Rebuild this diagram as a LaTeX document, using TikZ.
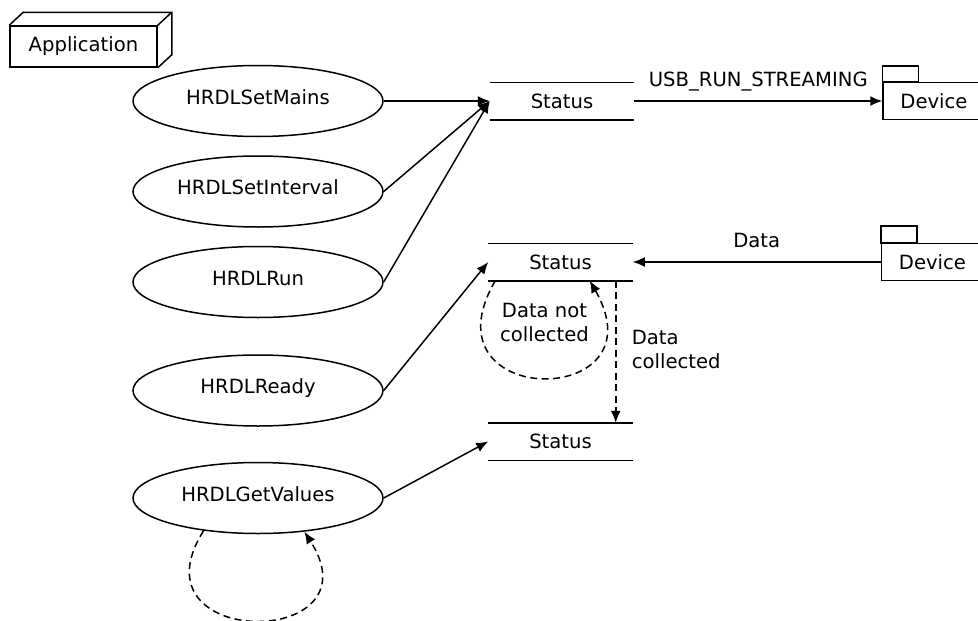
\documentclass[tikz,border=0pt]{standalone}
\usepackage{fontspec}
\setmainfont{DejaVu Sans}
\usetikzlibrary{arrows.meta,positioning,shapes.geometric}

\begin{document}
\begin{tikzpicture}[x=1pt,y=-1pt,>={Latex[length=12pt,width=10pt]},line width=1.5pt,font=\fontsize{19.6}{24}\selectfont,usecase/.style={ellipse,draw,minimum width=250pt,minimum height=71pt,inner sep=2pt,text height=14pt,text depth=8pt},store/.style={minimum width=143pt,minimum height=36pt,inner sep=0pt},device/.style={rectangle,draw,minimum width=102pt,minimum height=37pt,inner sep=0pt},appbox/.style={rectangle,draw,minimum width=147pt,minimum height=41pt,inner sep=0pt},lbl/.style={inner sep=0pt,text depth=0pt},dashedflow/.style={dash pattern=on 7pt off 4.5pt}]
    \useasboundingbox (0,0) rectangle (978,621);
    \node [appbox] (app) at (83.5,46.5)                {Application};
    \draw (app.north west) -- ++(14,-13) -| ([shift={(14pt,13pt)}] app.south east) -- (app.south east)
    (app.north east) -- ++(14,-13);

    \node [usecase] (setmains) at (258,101)            {HRDLSetMains};
    \node [usecase, below=18pt of setmains] (setinterval) {HRDLSetInterval};
    \node [usecase, below=18pt of setinterval] (run)   {HRDLRun};
    \node [usecase, below=36pt of run] (ready)         {HRDLReady};
    \node [usecase, below=35pt of ready] (getvalues)   {HRDLGetValues};

    \node [store, right=106pt of setmains] (status1)   {Status};
    \node [store] (status2) at (560.5,262)             {Status};
    \node [store, below=142pt of status2] (status3)    {Status};
    \foreach \s in {status1,status2,status3}
        \draw (\s.north west) -- (\s.north east) (\s.south west) -- (\s.south east);

    \node [device, right=248pt of status1] (device1)   {Device};
    \node [device, right=248pt of status2] (device2)   {Device};
    \draw (device1.north west) rectangle ++(36,-16);
    \draw (device2.north west) rectangle ++(36,-17);

    \path [->] (setmains.east) edge (status1.west);
    \path [->] (setinterval.east) edge (status1.west);
    \path [->] (run.east) edge (status1.west);
    \path [->] (ready.east) edge (status2.west);
    \path [->] (getvalues.east) edge (status3.west);
    \path [->] (status1) edge node [lbl, above=14pt] {USB\_RUN\_STREAMING} (device1);
    \path [->] (device2) edge node [lbl, above=14pt] {Data} (status2);

    \draw [->, dashedflow] ([xshift=-17pt] status2.south east) -- node [right=12pt, align=left, yshift=2pt] {Data\\collected} ([xshift=-17pt] status3.north east);
    % loop while no data
    \draw [->, dashedflow] ([xshift=7pt] status2.south west) .. controls (420,410) and (664,410) .. ([xshift=-43pt] status2.south east);
    \node [below=18pt of status2, xshift=-16pt, align=center] (notcollected) {Data not\\collected};
    \draw [->, dashedflow] (getvalues.-149) .. controls (128,650) and (380,650) .. (getvalues.-36);
\end{tikzpicture}
\end{document}
